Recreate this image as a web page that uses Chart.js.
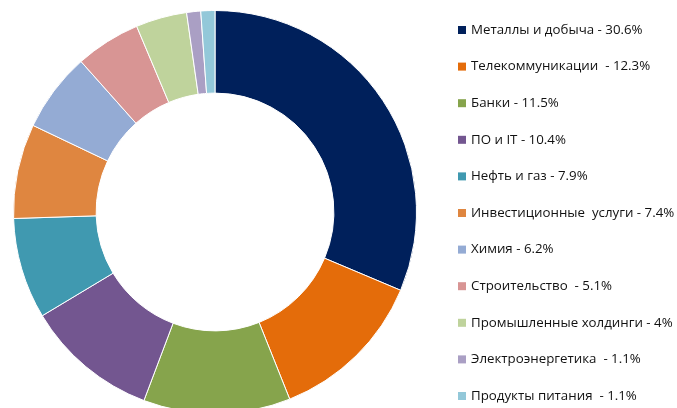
<!DOCTYPE html>
<html>
<head>
<meta charset="utf-8">
<script src="https://cdn.jsdelivr.net/npm/chart.js@4/dist/chart.umd.min.js"></script>
<style>
  html, body { margin: 0; padding: 0; background: #fff; }
  #wrap { width: 677px; height: 408px; overflow: hidden; position: relative; }
</style>
</head>
<body>
<div id="wrap"><canvas id="sectors" width="677" height="424"></canvas></div>
<script>
const sectors = [
  'Металлы и добыча', 'Телекоммуникации ', 'Банки', 'ПО и IT', 'Нефть и газ',
  'Инвестиционные  услуги', 'Химия', 'Строительство ', 'Промышленные холдинги',
  'Электроэнергетика ', 'Продукты питания '
]
const shares = [30.6, 12.3, 11.5, 10.4, 7.9, 7.4, 6.2, 5.1, 4, 1.1, 1.1]
const colors = [
  '#00205b', '#e46c0a', '#86a44c', '#735690', '#4099b0',
  '#df8640', '#94abd4', '#d89594', '#bfd39c', '#aa9fc4', '#93c8d9'
]

const sideLegend = {
  id: 'sideLegend',
  afterDraw(chart) {
    const {ctx, data} = chart
    const ds = data.datasets[0]
    ctx.save()
    ctx.font = '13.3px "Open Sans"'
    ctx.textBaseline = 'middle'
    data.labels.forEach((lab, i) => {
      const y = 30 + i * 36.6
      ctx.fillStyle = ds.backgroundColor[i]
      ctx.fillRect(458, y - 4, 8, 8)
      ctx.fillStyle = '#111'
      ctx.fillText(lab + ' - ' + ds.data[i] + '%', 471, y)
    })
    ctx.restore()
  }
}

const chart = new Chart(document.getElementById('sectors'), {
  type: 'doughnut',
  data: {
    labels: sectors,
    datasets: [{
      data: shares,
      backgroundColor: colors,
      borderColor: '#ffffff',
      borderWidth: 1
    }]
  },
  options: {
    responsive: false,
    animation: false,
    devicePixelRatio: 1,
    cutout: '59%',
    layout: { padding: { left: 13, top: 10, right: 260, bottom: 10 } },
    plugins: {
      legend: { display: false },
      tooltip: { enabled: false }
    }
  },
  plugins: [sideLegend]
})
</script>
</body>
</html>
